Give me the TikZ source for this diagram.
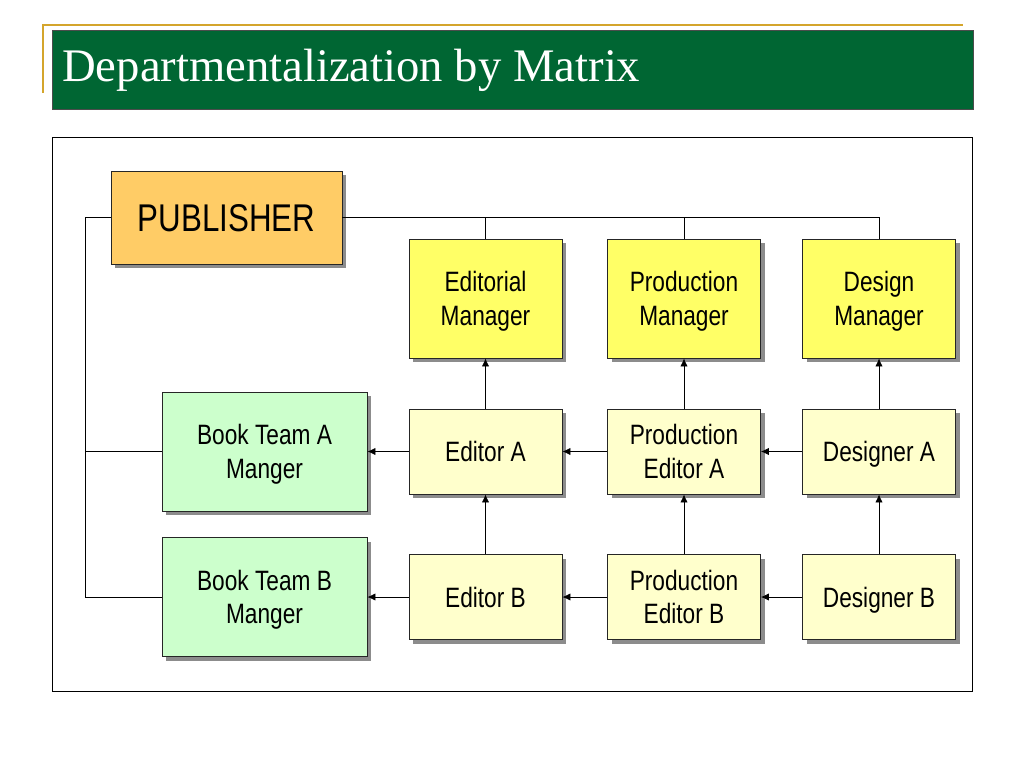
\documentclass[tikz,border=0pt]{standalone}
\usepackage{fontspec}
\setmainfont{Liberation Serif}
\newfontfamily\boxfont[FakeStretch=0.81]{Liberation Sans}
\usetikzlibrary{arrows.meta,shadows}

\definecolor{titlegreen}{HTML}{006633}
\definecolor{goldline}{HTML}{D4A52C}
\definecolor{pubfill}{HTML}{FFCC66}
\definecolor{mgrfill}{HTML}{FFFF66}
\definecolor{stafffill}{HTML}{FFFFCC}
\definecolor{teamfill}{HTML}{CCFFCC}

\tikzset{
  box/.style={draw=black!85, line width=0.6pt, align=center, inner sep=0pt,
    font=\boxfont\fontsize{21}{25}\selectfont, text depth=0pt,
    drop shadow={shadow xshift=3pt, shadow yshift=-3pt, fill=black!45, opacity=1}},
  pubbox/.style={box, fill=pubfill, minimum width=231*0.75pt, minimum height=93*0.75pt,
    font=\boxfont\fontsize{29}{34}\selectfont},
  mgrbox/.style={box, fill=mgrfill, minimum width=153*0.75pt, minimum height=119*0.75pt},
  staffbox/.style={box, fill=stafffill, minimum width=153*0.75pt, minimum height=85*0.75pt},
  teambox/.style={box, fill=teamfill, minimum width=205*0.75pt, minimum height=119*0.75pt},
  link/.style={line width=0.6pt},
  arr/.style={link, -{Latex[length=6pt,width=5.5pt]}}
}

\begin{document}
\begin{tikzpicture}[x=0.75pt, y=-0.75pt]
\useasboundingbox (0,0) rectangle (1024,768);

%заголовок
\draw[goldline, line width=2pt] (42,25) -- (963,25);
\draw[goldline, line width=2pt] (43,25) -- (43,93);
\draw[fill=titlegreen, draw=black!70] (52,30) rectangle (973,109);
\node[anchor=base west, white, inner sep=0pt, font=\fontsize{35}{40}\selectfont] (title) at (62,81) {Departmentalization by Matrix};

%рамка
\draw[line width=0.6pt] (52,137) rectangle (972,691);

%начальники
\node[pubbox] (pub) at (226.5,217.5) {PUBLISHER};
\node[mgrbox] (edm) at (485.5,298.5) {Editorial\\Manager};
\node[mgrbox] (prm) at (684,298.5) {Production\\Manager};
\node[mgrbox] (dsm) at (879,298.5) {Design\\Manager};

%команда A
\node[teambox] (bta) at (264.5,451.5) {Book Team A\\Manger};
\node[staffbox] (eda) at (485.5,451.5) {Editor A};
\node[staffbox] (pea) at (684,451.5) {Production\\Editor A};
\node[staffbox] (dga) at (879,451.5) {Designer A};

%команда B
\node[teambox] (btb) at (264.5,597) {Book Team B\\Manger};
\node[staffbox] (edb) at (485.5,597) {Editor B};
\node[staffbox] (peb) at (684,597) {Production\\Editor B};
\node[staffbox] (dgb) at (879,597) {Designer B};

%линии от издателя
\draw[link] (pub.east) -| (dsm.north);
\draw[link] (pub.east -| edm.north) -- (edm.north);
\draw[link] (pub.east -| prm.north) -- (prm.north);
\coordinate (lft) at (85,217.5);
\draw[link] (pub.west) -- (lft) |- (btb.west);
\draw[link] (lft |- bta.west) -- (bta.west);

%стрелки вверх
\draw[arr] (eda) -- (edm);
\draw[arr] (pea) -- (prm);
\draw[arr] (dga) -- (dsm);
\draw[arr] (edb) -- (eda);
\draw[arr] (peb) -- (pea);
\draw[arr] (dgb) -- (dga);

%стрелки влево
\draw[arr] (eda) -- (bta);
\draw[arr] (pea) -- (eda);
\draw[arr] (dga) -- (pea);
\draw[arr] (edb) -- (btb);
\draw[arr] (peb) -- (edb);
\draw[arr] (dgb) -- (peb);

\end{tikzpicture}
\end{document}
